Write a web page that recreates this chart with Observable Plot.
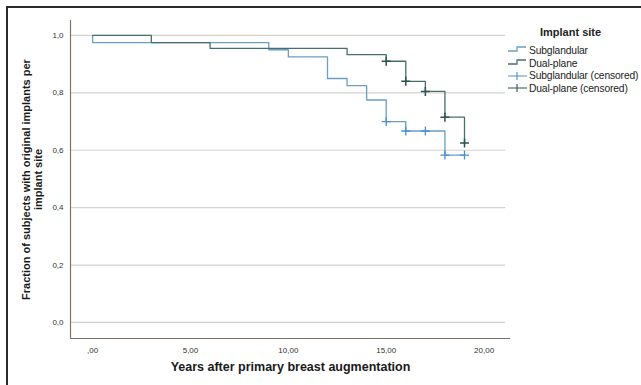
<!DOCTYPE html>
<html>
<head>
<meta charset="utf-8">
<script src="https://cdn.jsdelivr.net/npm/d3@7"></script>
<script src="https://cdn.jsdelivr.net/npm/@observablehq/plot@0.6"></script>
<style>
  html, body { margin: 0; padding: 0; background: #fff; }
  #wrap { position: relative; width: 641px; height: 385px; overflow: hidden; font-family: "Liberation Sans", Arial, sans-serif; }
  #frame { position: absolute; left: 6px; top: 6px; width: 700px; height: 400px; border-left: 2px solid #2b2b2b; border-top: 2px solid #2b2b2b; pointer-events: none; }
  #legend { position: absolute; left: 507px; top: 26px; font-size: 10.3px; color: #222; }
  #legend .title { font-weight: bold; font-size: 11px; margin-left: 33px; margin-bottom: 6px; }
  #legend .row { display: flex; align-items: center; height: 12.7px; }
  #legend .row span { margin-left: 1px; letter-spacing: -0.15px; }
</style>
</head>
<body>
<div id="wrap">
  <div id="chart"></div>
  <div id="legend"></div>
  <div id="frame"></div>
</div>
<script>
// ---- data ----
const subTimes = [0, 0, 9, 10, 12, 13, 14, 15, 16, 18, 19];
const subSurv  = [1, 0.975, 0.95, 0.925, 0.85, 0.825, 0.775, 0.70, 0.667, 0.583, 0.583];
const dualTimes = [0, 3, 6, 13, 15, 16, 17, 18, 19];
const dualSurv  = [1, 0.975, 0.955, 0.933, 0.91, 0.84, 0.805, 0.715, 0.625];
const subCensTimes = [15, 16, 17, 18, 19];
const subCensSurv  = [0.70, 0.667, 0.667, 0.583, 0.583];
const dualCensTimes = [15, 16, 17, 18, 19];
const dualCensSurv  = [0.91, 0.84, 0.805, 0.715, 0.625];
const xTicks = [0, 5, 10, 15, 20];
const yTicks = [0, 0.2, 0.4, 0.6, 0.8, 1.0];
const seriesNames = ["Subglandular", "Dual-plane", "Subglandular (censored)", "Dual-plane (censored)"];
const xLabel = "Years after primary breast augmentation";
const yLabel = "Fraction of subjects with original implants per\nimplant site";
const legendTitle = "Implant site";

const colSub = "#6a9ec4", colSubC = "#4a8fcc", colDual = "#46706e", colDualC = "#2d524e";

const sub = subTimes.map((t, i) => ({t, s: subSurv[i]}));
const dual = dualTimes.map((t, i) => ({t, s: dualSurv[i]}));
const subC = subCensTimes.map((t, i) => ({t, s: subCensSurv[i]}));
const dualC = dualCensTimes.map((t, i) => ({t, s: dualCensSurv[i]}));

const xDom = [-1.13, 21.35];
const yDom = [-0.056, 1.052];
const gridEnd = 21.1;

const fmtX = d => d === 0 ? ",00" : d.toFixed(2).replace(".", ",");
const fmtY = d => d.toFixed(1).replace(".", ",");

const chart = Plot.plot({
  width: 641,
  height: 385,
  marginLeft: 70,
  marginRight: 131,
  marginTop: 20,
  marginBottom: 47,
  style: {fontFamily: "'Liberation Sans', Arial, sans-serif", fontSize: "8px", color: "#333"},
  x: {domain: xDom, ticks: xTicks, tickFormat: fmtX, tickSize: 0, tickPadding: 9, label: null},
  y: {domain: yDom, ticks: yTicks, tickFormat: fmtY, tickSize: 0, tickPadding: 7, label: null},
  marks: [
    Plot.ruleY(yTicks, {x1: xDom[0], x2: gridEnd, stroke: "#d8d2cc", strokeWidth: 1.2}),
    Plot.ruleX([xDom[0]], {y1: yDom[0], y2: yDom[1], stroke: "#7d736b", strokeWidth: 1.2}),
    Plot.ruleY([yDom[0]], {x1: xDom[0], x2: xDom[1], stroke: "#7d736b", strokeWidth: 1.2}),
    Plot.line(sub, {x: "t", y: "s", curve: "step-after", stroke: colSub, strokeWidth: 1.3}),
    Plot.line(dual, {x: "t", y: "s", curve: "step-after", stroke: colDual, strokeWidth: 1.3}),
    Plot.dot(subC, {x: "t", y: "s", symbol: "plus", r: 3, stroke: colSubC, strokeWidth: 1.3}),
    Plot.dot(dualC, {x: "t", y: "s", symbol: "plus", r: 3, stroke: colDualC, strokeWidth: 1.5}),
    Plot.axisX({ticks: xTicks, tickFormat: fmtX, tickSize: 0, tickPadding: 9, label: null}),
    Plot.axisY({ticks: yTicks, tickFormat: fmtY, tickSize: 0, tickPadding: 7, label: null}),
    Plot.text([xLabel], {frameAnchor: "bottom", dy: 32, fontWeight: "bold", fontSize: 12.5, fill: "#1a1a1a"}),
    Plot.text([yLabel], {frameAnchor: "left", textAnchor: "middle", rotate: -90, dx: -38, fontWeight: "bold", fontSize: 11, lineHeight: 1.1, fill: "#1a1a1a"})
  ]
});
document.getElementById("chart").appendChild(chart);

// ---- legend ----
const legend = document.getElementById("legend");
const t = document.createElement("div");
t.className = "title"; t.textContent = legendTitle; legend.appendChild(t);
const symbols = [
  `<path d="M1,6 H10 V2 H19" fill="none" stroke="${colSub}" stroke-width="1.3"/>`,
  `<path d="M1,6 H10 V2 H19" fill="none" stroke="${colDual}" stroke-width="1.3"/>`,
  `<path d="M1,5 H20 M10,1 V9" fill="none" stroke="${colSubC}" stroke-width="1.1"/>`,
  `<path d="M1,5 H20 M10,1 V9" fill="none" stroke="${colDualC}" stroke-width="1.1"/>`
];
seriesNames.forEach((name, i) => {
  const row = document.createElement("div");
  row.className = "row";
  row.innerHTML = `<svg width="21" height="10">${symbols[i]}</svg><span>${name}</span>`;
  legend.appendChild(row);
});
</script>
</body>
</html>
